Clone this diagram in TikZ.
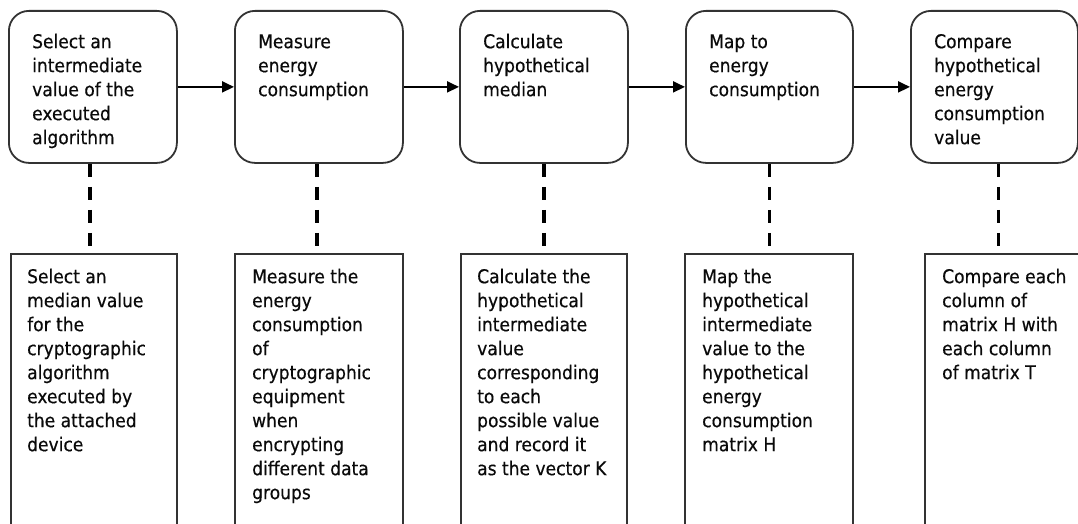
\documentclass[tikz,border=0pt]{standalone}
\usepackage{fontspec}
\setmainfont{DejaVu Sans}[FakeStretch=0.9,FakeBold=0.4]
\usetikzlibrary{arrows.meta}
\definecolor{edgegray}{HTML}{333333}
\definecolor{inkblack}{HTML}{0A0A0A}
\newcommand{\fstrut}{\rule{0pt}{16pt}}
\tikzset{
  topbox/.style={draw=edgegray, line width=1.8pt, rounded corners=20pt, minimum width=168pt, minimum height=152pt, inner sep=0pt, anchor=north west},
  botbox/.style={draw=edgegray, line width=1.8pt, minimum width=166pt, minimum height=300pt, inner sep=0pt, anchor=north west},
  txt/.style={anchor=north west, inner sep=0pt, align=left, text=inkblack, font=\fontsize{19}{24}\selectfont},
  flow/.style={draw=black, line width=1.9pt, -{Triangle[length=12pt,width=11pt]}},
  link/.style={draw=black, line width=3.5pt, dash pattern=on 13pt off 10pt}
}
\begin{document}
\begin{tikzpicture}[x=1pt,y=-1pt]
\useasboundingbox (0,0) rectangle (1078,524);
\clip (0,0) rectangle (1078,524);
\fill[white] (0,0) rectangle (1078,524);

% top boxes
\node[topbox] (t1) at (8,10) {};
\node[topbox] (t2) at (234,10) {};
\node[topbox] (t3) at (459,10) {};
\node[topbox, minimum width=167pt] (t4) at (685,10) {};
\node[topbox, minimum width=167pt] (t5) at (910,10) {};

\node[txt] (tt1) at (32,32) {\fstrut Select an\\intermediate\\value of the\\executed\\algorithm};
\node[txt] (tt2) at (258,32) {\fstrut Measure\\energy\\consumption};
\node[txt] (tt3) at (483,32) {\fstrut Calculate\\hypothetical\\median};
\node[txt] (tt4) at (709,32) {\fstrut Map to\\energy\\consumption};
\node[txt] (tt5) at (934,32) {\fstrut Compare\\hypothetical\\energy\\consumption\\value};

% bottom boxes
\node[botbox] (b1) at (10,253) {};
\node[botbox, minimum width=168pt] (b2) at (234,253) {};
\node[botbox] (b3) at (460,253) {};
\node[botbox, minimum width=168pt] (b4) at (684,253) {};
\node[botbox] (b5) at (924,253) {};

\node[txt] (bt1) at (27,267) {\fstrut Select an\\median value\\for the\\cryptographic\\algorithm\\executed by\\the attached\\device};
\node[txt] (bt2) at (252,267) {\fstrut Measure the\\energy\\consumption\\of\\cryptographic\\equipment\\when\\encrypting\\different data\\groups};
\node[txt] (bt3) at (477,267) {\fstrut Calculate the\\hypothetical\\intermediate\\value\\corresponding\\to each\\possible value\\and record it\\as the vector K};
\node[txt] (bt4) at (702,267) {\fstrut Map the\\hypothetical\\intermediate\\value to the\\hypothetical\\energy\\consumption\\matrix H};
\node[txt] (bt5) at (942,267) {\fstrut Compare each\\column of\\matrix H with\\each column\\of matrix T};

% arrows
\draw[flow] (t1.east) -- (t2.west);
\draw[flow] (t2.east) -- (t3.west);
\draw[flow] (t3.east) -- (t4.west);
\draw[flow] (t4.east) -- (t5.west);

% dashed links
\draw[link] ([xshift=-3pt]t1.south) -- ([xshift=-3pt]t1.south |- b1.north);
\draw[link] ([xshift=-2pt]t2.south) -- ([xshift=-2pt]t2.south |- b2.north);
\draw[link] (t3.south) -- (t3.south |- b3.north);
\draw[link] (t4.south) -- (t4.south |- b4.north);
\draw[link] ([xshift=4pt]t5.south) -- ([xshift=4pt]t5.south |- b5.north);
\end{tikzpicture}
\end{document}
